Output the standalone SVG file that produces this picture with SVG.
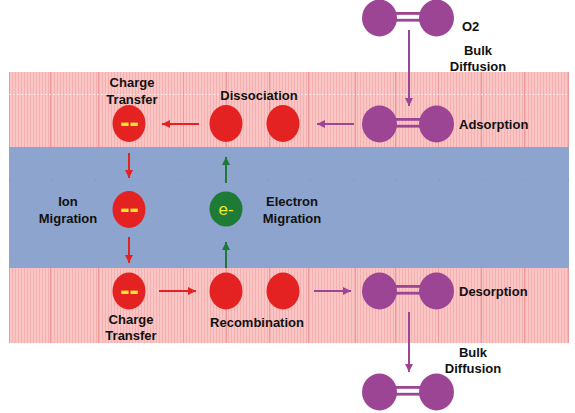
<svg xmlns="http://www.w3.org/2000/svg" width="575" height="413" viewBox="0 0 575 413">
<defs>
<pattern id="stripes" x="0" y="0" width="3" height="10" patternUnits="userSpaceOnUse">
<rect width="3" height="10" fill="#F9C5C5"/>
<rect x="0" width="1" height="10" fill="#F5B0B0"/>
</pattern>
<marker id="ahRed" viewBox="0 0 10 10" refX="10" refY="5" markerWidth="4.2" markerHeight="4.2" orient="auto" markerUnits="strokeWidth">
<path d="M0,0 L10,5 L0,10 z" fill="#E52222"/>
</marker>
<marker id="ahGreen" viewBox="0 0 10 10" refX="10" refY="5" markerWidth="4.2" markerHeight="4.2" orient="auto" markerUnits="strokeWidth">
<path d="M0,0 L10,5 L0,10 z" fill="#1E7B36"/>
</marker>
<marker id="ahPurple" viewBox="0 0 10 10" refX="10" refY="5" markerWidth="4.2" markerHeight="4.2" orient="auto" markerUnits="strokeWidth">
<path d="M0,0 L10,5 L0,10 z" fill="#9C4595"/>
</marker>
<g id="mol">
<rect x="-12" y="-6" width="50" height="2.8" fill="#9C4595"/>
<rect x="-12" y="0.8" width="50" height="2.8" fill="#9C4595"/>
<ellipse cx="-17.5" cy="0" rx="17.5" ry="18.5" fill="#9C4595"/>
<ellipse cx="39.5" cy="0" rx="17.5" ry="18.5" fill="#9C4595"/>
</g>
</defs>
<style>
text { font-family: "Liberation Sans", Arial, sans-serif; font-size: 13px; font-weight: bold; fill: #111; }
.c { text-anchor: middle; }
.red { fill: #E52222; }
.dash { font-size: 28px; fill: #F2E62A; text-anchor: middle; }
.grid { stroke: #EE9A9A; stroke-width: 1; }
.ra { stroke: #E52222; stroke-width: 2; fill: none; marker-end: url(#ahRed); }
.ga { stroke: #1E7B36; stroke-width: 2; fill: none; marker-end: url(#ahGreen); }
.pa { stroke: #9C4595; stroke-width: 2; fill: none; marker-end: url(#ahPurple); }
</style>
<rect width="575" height="413" fill="#ffffff"/>
<g id="background">
<rect x="9" y="72" width="560" height="271" fill="url(#stripes)"/>
<g class="grid">
<line x1="9.5" y1="72" x2="9.5" y2="343"/>
<line x1="50.5" y1="72" x2="50.5" y2="343"/>
<line x1="98.5" y1="72" x2="98.5" y2="343"/>
<line x1="183.5" y1="72" x2="183.5" y2="343"/>
<line x1="226.5" y1="72" x2="226.5" y2="343"/>
<line x1="269.5" y1="72" x2="269.5" y2="343"/>
<line x1="308.5" y1="72" x2="308.5" y2="343"/>
<line x1="355.5" y1="72" x2="355.5" y2="343"/>
<line x1="395.5" y1="72" x2="395.5" y2="343"/>
<line x1="438.5" y1="72" x2="438.5" y2="343"/>
<line x1="481.5" y1="72" x2="481.5" y2="343"/>
<line x1="524.5" y1="72" x2="524.5" y2="343"/>
<line x1="568.5" y1="72" x2="568.5" y2="343"/>
</g>
<line x1="9" y1="94.5" x2="569" y2="94.5" stroke="#FCE3E3" stroke-width="1" stroke-dasharray="2,2"/>
<rect x="9" y="147" width="560" height="121" fill="#8DA4CE"/>
<line x1="9" y1="180.5" x2="569" y2="180.5" stroke="#6F86B4" stroke-width="1" stroke-dasharray="1,42" opacity="0.6"/>
</g>
<g id="connectors">
<line class="pa" x1="409" y1="30" x2="409" y2="106"/>
<line class="pa" x1="354" y1="124" x2="317" y2="124"/>
<line class="ra" x1="199" y1="124" x2="162" y2="124"/>
<line class="ra" x1="129" y1="153" x2="129" y2="178"/>
<line class="ra" x1="129" y1="237" x2="129" y2="263"/>
<line class="ga" x1="226" y1="183" x2="226" y2="157"/>
<line class="ga" x1="226" y1="268" x2="226" y2="242"/>
<line class="ra" x1="159" y1="291" x2="196" y2="291"/>
<line class="pa" x1="314" y1="291" x2="351" y2="291"/>
<line class="pa" x1="409" y1="312" x2="409" y2="372"/>
</g>
<g id="o2-gas">
<use href="#mol" x="397" y="18"/>
<text x="462" y="31">O2</text>
</g>
<g id="bulk-diffusion-top">
<text class="c" x="478" y="55">Bulk</text>
<text class="c" x="478" y="71">Diffusion</text>
</g>
<g id="adsorption">
<use href="#mol" x="397" y="124"/>
<text x="459" y="129">Adsorption</text>
</g>
<g id="dissociation">
<ellipse cx="226" cy="123.5" rx="16.5" ry="18.5" class="red"/>
<ellipse cx="283" cy="123.5" rx="16.5" ry="18.5" class="red"/>
<text class="c" x="259" y="100">Dissociation</text>
</g>
<g id="charge-transfer-top">
<ellipse cx="129" cy="123.5" rx="16.5" ry="18.5" class="red"/>
<text class="dash" x="129.5" y="132">--</text>
<text class="c" x="132" y="87">Charge</text>
<text class="c" x="132" y="104">Transfer</text>
</g>
<g id="ion-migration">
<ellipse cx="129" cy="209.5" rx="16.5" ry="18.5" class="red"/>
<text class="dash" x="129.5" y="218">--</text>
<text class="c" x="68" y="206">Ion</text>
<text class="c" x="68" y="223">Migration</text>
</g>
<g id="electron-migration">
<ellipse cx="226" cy="209" rx="16.5" ry="17.5" fill="#1E7B36"/>
<text class="c" x="226" y="215" style="font-weight:normal;font-size:17px;fill:#F2E62A">e-</text>
<text class="c" x="292" y="206">Electron</text>
<text class="c" x="292" y="223">Migration</text>
</g>
<g id="charge-transfer-bottom">
<ellipse cx="129" cy="291" rx="16.5" ry="18.5" class="red"/>
<text class="dash" x="129.5" y="299.5">--</text>
<text class="c" x="131" y="324">Charge</text>
<text class="c" x="131" y="340">Transfer</text>
</g>
<g id="recombination">
<ellipse cx="226" cy="291" rx="16.5" ry="18.5" class="red"/>
<ellipse cx="283" cy="291" rx="16.5" ry="18.5" class="red"/>
<text class="c" x="257" y="327">Recombination</text>
</g>
<g id="desorption">
<use href="#mol" x="397" y="291"/>
<text x="459" y="296">Desorption</text>
</g>
<g id="bulk-diffusion-bottom">
<text class="c" x="473" y="357">Bulk</text>
<text class="c" x="473" y="373">Diffusion</text>
</g>
<g id="o2-released">
<use href="#mol" x="397" y="392"/>
</g>
</svg>
